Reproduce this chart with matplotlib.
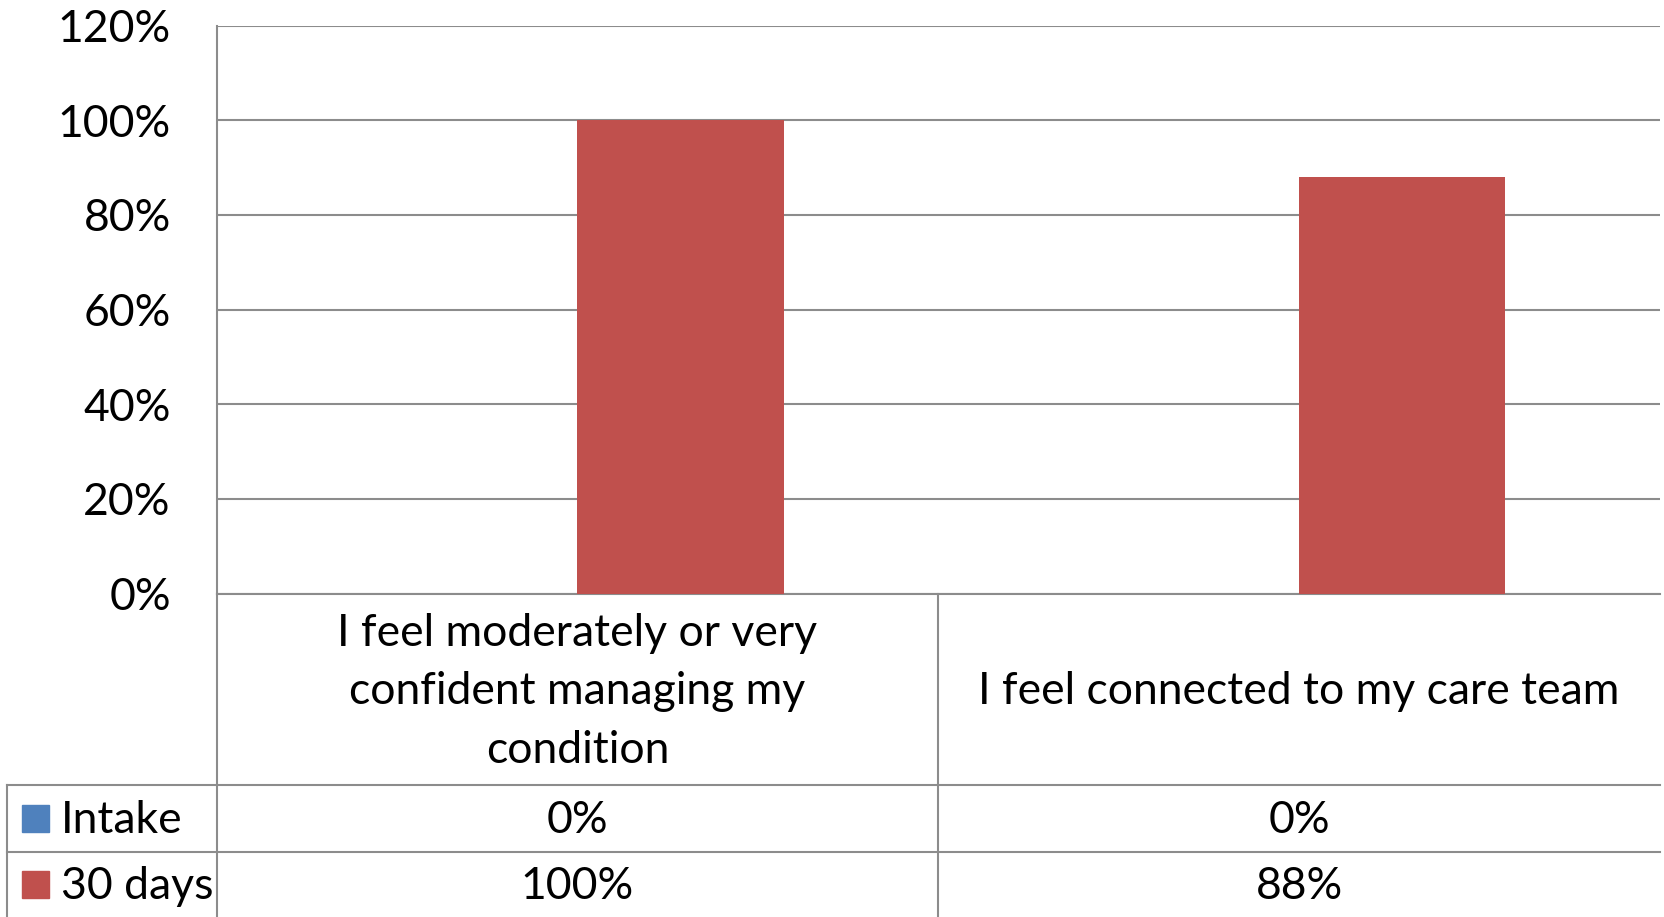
import matplotlib
matplotlib.use("Agg")
import matplotlib.pyplot as plt
from matplotlib.patches import Rectangle

# Data
categories = ["I feel moderately or very\nconfident managing my\ncondition",
              "I feel connected to my care team"]
series_names = ["Intake", "30 days"]
intake = [0.0, 0.0]
days30 = [1.00, 0.88]
colors = ["#4F81BD", "#C0504D"]
yticks = [0, 0.2, 0.4, 0.6, 0.8, 1.0, 1.2]

plt.rcParams["font.family"] = ["Lato", "DejaVu Sans"]
FS = 32
GRID = "#8c8c8c"

W, H = 1665, 917
fig = plt.figure(figsize=(W / 100, H / 100), dpi=100)
ax = fig.add_axes([216.6 / W, 1 - 593.6 / H, (1660 - 216.6) / W, (593.6 - 25.5) / H])

bw = 1 / 3.5  # Excel gap width 150%
xs = range(len(categories))
ax.bar([x - bw / 2 for x in xs], intake, width=bw, color=colors[0], zorder=3)
ax.bar([x + bw / 2 for x in xs], days30, width=bw, color=colors[1], zorder=3)

ax.set_xlim(-0.5, 1.5)
ax.set_ylim(0, 1.2)
ax.set_yticks(yticks)
ax.set_yticklabels([f"{round(v * 100)}%" for v in yticks], fontsize=FS)
ax.set_xticks([])
ax.tick_params(axis="y", length=0, pad=33)
ax.grid(axis="y", color=GRID, lw=1.5, zorder=0)
for s in ["top", "right"]:
    ax.spines[s].set_visible(False)
for s in ["left", "bottom"]:
    ax.spines[s].set_color(GRID)
    ax.spines[s].set_linewidth(1.5)

# data table under the plot
tr = ax.get_xaxis_transform()
px = 721.7  # pixels per category
ph = 568.1  # axes height in pixels
y_head = -(784.7 - 593.6) / ph
y_int = -(851.6 - 593.6) / ph
y_bot = -(917 - 593.6) / ph
x_lab = -0.5 - (216.6 - 7.4) / px
dy = -2.5 / ph  # nudge text down a bit

kw = dict(transform=tr, color=GRID, lw=1.5, clip_on=False)
ax.plot([x_lab, 1.5], [y_head, y_head], **kw)
ax.plot([x_lab, 1.5], [y_int, y_int], **kw)
ax.plot([-0.5, -0.5], [0, y_bot], **kw)
ax.plot([0.5, 0.5], [0, y_bot], **kw)
ax.plot([x_lab, x_lab], [y_head, y_bot], **kw)

for i, cat in enumerate(categories):
    ax.text(i, y_head / 2 + dy, cat, transform=tr, ha="center", va="center",
            fontsize=FS, linespacing=1.53)

rows = [intake, days30]
row_mid = [(y_head + y_int) / 2, (y_int + y_bot) / 2]
sq = 27
for name, vals, c, ym in zip(series_names, rows, colors, row_mid):
    ax.add_patch(Rectangle((-0.5 - (216.6 - 22) / px, ym - sq / 2 / ph), sq / px, sq / ph,
                           transform=tr, color=c, clip_on=False))
    ax.text(-0.5 - (216.6 - 61) / px, ym + dy, name, transform=tr, ha="left", va="center", fontsize=FS)
    for i, v in enumerate(vals):
        ax.text(i, ym + dy, f"{round(v * 100)}%", transform=tr, ha="center", va="center", fontsize=FS)

fig.savefig("out.png", dpi=100)
